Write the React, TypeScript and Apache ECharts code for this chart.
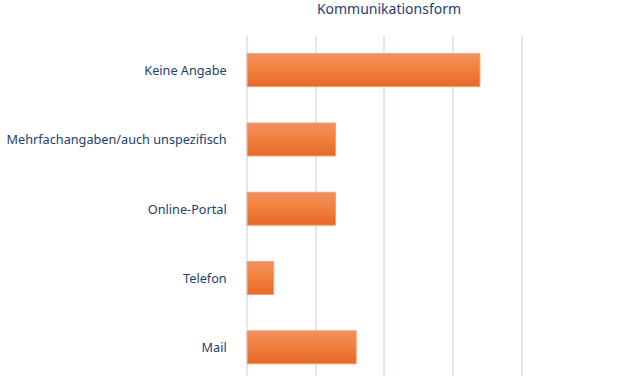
import React, { useEffect, useRef } from "react";
import * as echarts from "echarts";

const categories = ["Keine Angabe", "Mehrfachangaben/auch unspezifisch", "Online-Portal", "Telefon", "Mail"];
const values = [34, 13, 13, 4, 16];
const titleText = "Kommunikationsform";

export default function App() {
  const ref = useRef<HTMLDivElement>(null);
  useEffect(() => {
    if (!ref.current) return;
    const chart = echarts.init(ref.current, null, { renderer: "svg" });
    const font = "'Noto Sans', sans-serif";
    chart.setOption({
      animation: false,
      backgroundColor: "#ffffff",
      title: {
        text: titleText,
        left: 384,
        textAlign: "center",
        top: -4,
        textStyle: { color: "#23406f", fontSize: 14, fontWeight: "normal", fontFamily: font },
      },
      grid: {
        left: 246.7,
        width: 275,
        top: 35.5,
        height: 346.5,
        containLabel: false,
        outerBoundsMode: "none",
      },
      xAxis: {
        type: "value",
        min: 0,
        max: 40,
        interval: 10,
        axisLabel: { show: false },
        axisLine: { show: false },
        axisTick: { show: false },
        splitLine: { show: true, lineStyle: { color: "#d8dee9", width: 1.5 } },
      },
      yAxis: {
        type: "category",
        inverse: true,
        data: categories,
        axisLine: { show: false },
        axisTick: { show: false },
        axisLabel: { color: "#23406f", fontSize: 12.7, fontFamily: font, margin: 20 },
      },
      series: [
        {
          type: "bar",
          data: values,
          barCategoryGap: "51%",
          itemStyle: {
            color: new echarts.graphic.LinearGradient(0, 0, 0, 1, [
              { offset: 0, color: "#f29060" },
              { offset: 0.5, color: "#f17f3b" },
              { offset: 1, color: "#e5682a" },
            ]),
            borderColor: "#f3a06f",
            borderWidth: 1,
          },
        },
      ],
    });
    return () => chart.dispose();
  }, []);
  return <div ref={ref} style={{ position: "fixed", left: 0, top: 0, width: 630, height: 376 }} />;
}
